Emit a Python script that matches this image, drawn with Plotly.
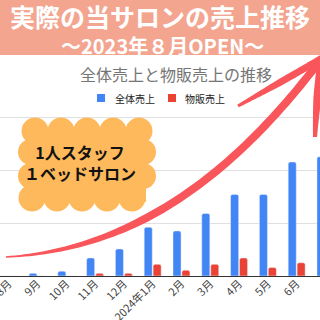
import numpy as np
import plotly.graph_objects as go

# ---- data ----
months = ["2023年8月", "9月", "10月", "11月", "12月", "2024年1月",
          "2月", "3月", "4月", "5月", "6月", "7月"]
total_sales = [0.0, 0.05, 0.09, 0.34, 0.51, 0.92, 0.85, 1.18, 1.54, 1.54, 2.15, 2.25]
goods_sales = [0.0, 0.0, 0.0, 0.05, 0.05, 0.22, 0.11, 0.22, 0.34, 0.16, 0.25, 0.2]
series_names = ["全体売上", "物販売上"]
series_colors = ["#4285F4", "#EA4335"]

W = H = 320
CJK = "Noto Sans CJK JP"


def P(px, py):
    return px / W, 1 - py / H


def ppath(points, close=True):
    s = ""
    for i, (px, py) in enumerate(points):
        x, y = P(px, py)
        s += ("M" if i == 0 else "L") + f"{x:.5f},{y:.5f} "
    return s + ("Z" if close else "")


def tapered_stroke(ctrl, w0, w1, ramp, n=80):
    p0, p1, p2, p3 = [np.array(c, float) for c in ctrl]
    t = np.linspace(0, 1, n)[:, None]
    pts = (1 - t) ** 3 * p0 + 3 * (1 - t) ** 2 * t * p1 + 3 * (1 - t) * t ** 2 * p2 + t ** 3 * p3
    d = 3 * (1 - t) ** 2 * (p1 - p0) + 6 * (1 - t) * t * (p2 - p1) + 3 * t ** 2 * (p3 - p2)
    d = d / np.linalg.norm(d, axis=1, keepdims=True)
    nrm = np.stack([-d[:, 1], d[:, 0]], axis=1)
    w = w0 + (w1 - w0) * np.clip(t[:, 0] / ramp, 0, 1)
    left = pts + nrm * (w[:, None] / 2)
    right = pts - nrm * (w[:, None] / 2)
    return ppath(list(map(tuple, left)) + list(map(tuple, right[::-1])))


fig = go.Figure()
for name, vals, col in zip(series_names, [total_sales, goods_sales], series_colors):
    fig.add_trace(go.Bar(x=months, y=vals, name=name, showlegend=False,
                         marker=dict(color=col, cornerradius=2)))

shapes = []
annotations = []
red = "#F9565B"


def rect(px0, py0, px1, py1, color, layer="above"):
    a, b = P(px0, py1)
    c, d = P(px1, py0)
    shapes.append(dict(type="rect", xref="paper", yref="paper", x0=a, x1=c, y0=b, y1=d,
                       fillcolor=color, line=dict(width=0), layer=layer))


def txt(s, px, py, size, color, bold=False, anchor="center"):
    x, y = P(px, py)
    annotations.append(dict(text=(f"<b>{s}</b>" if bold else s), x=x, y=y, xref="paper", yref="paper",
                            showarrow=False, xanchor=anchor, yanchor="middle",
                            font=dict(size=size, color=color, family=CJK)))


# banner
rect(0, 0, 320, 55, "#F3A590")

# cloud
cloud = "#FDB95C"
def circ(cx, cy, r):
    a, b = P(cx - r, cy + r)
    c, d = P(cx + r, cy - r)
    shapes.append(dict(type="circle", xref="paper", yref="paper", x0=a, x1=c, y0=b, y1=d,
                       fillcolor=cloud, line=dict(width=0), layer="above"))

rect(28, 128, 146, 202, cloud)
for cx in [35, 61, 87, 113, 139]:
    circ(cx, 131, 13.5)
for cx in [32, 57, 82, 107, 132]:
    circ(cx, 198, 13.5)
for cy in [152, 176]:
    circ(31, cy, 13)
    circ(143, cy, 13)

# arrow
for ctrl, w0, w1, ramp in [
    ([(6, 257), (130, 250), (230, 180), (322, 58)], 1.5, 8, 0.4),
    ([(238, 106), (265, 91), (295, 74), (324, 57)], 3, 7, 0.5),
    ([(315, 137), (316, 112), (318, 85), (322, 57)], 4, 8, 0.5),
]:
    shapes.append(dict(type="path", xref="paper", yref="paper", layer="above",
                       path=tapered_stroke(ctrl, w0, w1, ramp),
                       fillcolor=red, line=dict(width=0)))

# legend (manual)
for (sq_x, tx_x), name, col in zip([(97, 113), (168, 183)], series_names, series_colors):
    rect(sq_x, 94, sq_x + 8, 102, col, layer="below")
    txt(name, tx_x, 98, 10, "#222222", anchor="left")

txt("実際の当サロンの売上推移", 160, 16, 25, "white", bold=True)
txt("〜2023年８月OPEN〜", 162, 45, 20, "white", bold=True)
txt("全体売上と物販売上の推移", 176, 74, 16, "#757575")
txt("1人スタッフ<br>１ベッドサロン", 80, 162, 16, "#111111", bold=True)

fig.update_layout(
    width=W, height=H, autosize=False,
    margin=dict(l=0, r=0, t=0, b=0),
    paper_bgcolor="white", plot_bgcolor="white",
    barmode="group", bargap=0.38, bargroupgap=0.1,
    showlegend=False,
    xaxis=dict(range=[-0.302, 10.81], domain=[0, 1], showline=True, linecolor="#333", linewidth=1,
               ticks="", tickangle=-45, tickfont=dict(size=11, color="#444", family=CJK),
               ticklabelstandoff=-4,
               showgrid=False, automargin=False, fixedrange=True),
    yaxis=dict(domain=[1 - 276 / H, 1 - 110 / H], range=[0, 3.132], dtick=1,
               showticklabels=False, gridcolor="#e0e0e0", gridwidth=1, zeroline=False,
               automargin=False, fixedrange=True),
    shapes=shapes, annotations=annotations,
)
fig.write_html("out.html")
